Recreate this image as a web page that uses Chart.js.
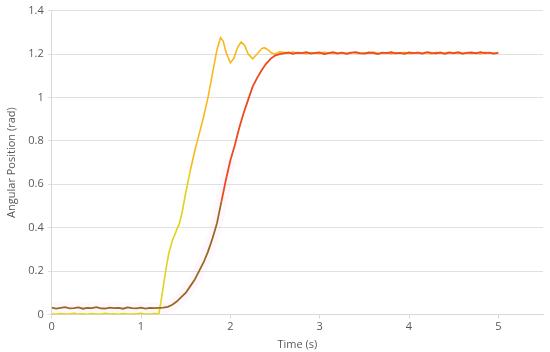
<!DOCTYPE html>
<html>
<head>
<meta charset="utf-8">
<script src="https://cdn.jsdelivr.net/npm/chart.js@4.4.1/dist/chart.umd.min.js"></script>
<style>
  html, body { margin: 0; padding: 0; background: #fff; }
  canvas { display: block; }
</style>
</head>
<body>
<canvas id="stepChart" width="550" height="352"></canvas>
<script>
// time samples (s)
const startTime = [0, 0.05, 0.1, 0.15, 0.2, 0.25, 0.3, 0.35, 0.4, 0.45, 0.5, 0.55, 0.6, 0.65, 0.7, 0.75, 0.8, 0.85, 0.9, 0.95, 1.0, 1.05, 1.1, 1.15, 1.2];
const endTime = [2.6, 2.65, 2.7, 2.75, 2.8, 2.85, 2.9, 2.95, 3.0, 3.05, 3.1, 3.15, 3.2, 3.25, 3.3, 3.35, 3.4, 3.45, 3.5, 3.55, 3.6, 3.65, 3.7, 3.75, 3.8, 3.85, 3.9, 3.95, 4.0, 4.05, 4.1, 4.15, 4.2, 4.25, 4.3, 4.35, 4.4, 4.45, 4.5, 4.55, 4.6, 4.65, 4.7, 4.75, 4.8, 4.85, 4.9, 4.95, 5.0];

// red (slow) response
const redStart = [0.032, 0.028, 0.031, 0.034, 0.029, 0.030, 0.033, 0.027, 0.031, 0.030, 0.034, 0.029, 0.028, 0.032, 0.030, 0.031, 0.027, 0.033, 0.030, 0.029, 0.032, 0.028, 0.031, 0.030, 0.031];
const redRiseTime = [1.25, 1.3, 1.35, 1.4, 1.45, 1.5, 1.55, 1.6, 1.65, 1.7, 1.75, 1.8, 1.85, 1.9, 1.95, 2.0, 2.05, 2.1, 2.15, 2.2, 2.25, 2.3, 2.35, 2.4, 2.45, 2.5, 2.55];
const redRise = [0.032, 0.036, 0.045, 0.06, 0.08, 0.10, 0.13, 0.16, 0.20, 0.24, 0.29, 0.35, 0.42, 0.52, 0.62, 0.71, 0.78, 0.86, 0.93, 0.99, 1.05, 1.09, 1.125, 1.155, 1.178, 1.193, 1.2];
const redEnd = [1.203, 1.207, 1.201, 1.206, 1.204, 1.209, 1.202, 1.205, 1.207, 1.200,
  1.204, 1.208, 1.203, 1.206, 1.201, 1.205, 1.209, 1.204, 1.202, 1.207,
  1.205, 1.200, 1.206, 1.204, 1.208, 1.203, 1.205, 1.201, 1.207, 1.204,
  1.206, 1.202, 1.209, 1.205, 1.203, 1.207, 1.201, 1.206, 1.204, 1.208,
  1.202, 1.205, 1.207, 1.203, 1.209, 1.204, 1.206, 1.202, 1.205];

// yellow (fast, oscillating) response
const yellowStart = [0.004, 0.001, 0.005, 0.002, 0.003, 0.006, 0.002, 0.004, 0.001, 0.005, 0.003, 0.002, 0.006, 0.003, 0.004, 0.001, 0.005, 0.003, 0.002, 0.004, 0.006, 0.002, 0.003, 0.005, 0.004];
const yellowRiseTime = [1.22, 1.25, 1.28, 1.31, 1.35, 1.4, 1.43, 1.46, 1.5, 1.55, 1.6, 1.65, 1.7, 1.75, 1.8, 1.85, 1.89, 1.92, 1.95, 2.0, 2.04, 2.08, 2.12, 2.16, 2.2, 2.25, 2.3, 2.35, 2.38, 2.42, 2.46, 2.5, 2.55];
const yellowRise = [0.05, 0.13, 0.21, 0.28, 0.34, 0.39, 0.42, 0.47, 0.56, 0.66, 0.75, 0.83, 0.91, 1.0, 1.11, 1.22, 1.275, 1.26, 1.21, 1.16, 1.18, 1.23, 1.255, 1.24, 1.2, 1.178, 1.2, 1.225, 1.229, 1.22, 1.205, 1.2, 1.21];
const yellowEnd = [1.208, 1.204, 1.210, 1.203, 1.206, 1.201, 1.207, 1.205, 1.202, 1.209,
  1.204, 1.206, 1.200, 1.207, 1.203, 1.208, 1.205, 1.202, 1.206, 1.204,
  1.209, 1.203, 1.205, 1.207, 1.201, 1.206, 1.204, 1.208, 1.202, 1.205,
  1.207, 1.203, 1.206, 1.200, 1.208, 1.204, 1.205, 1.209, 1.203, 1.206,
  1.202, 1.207, 1.204, 1.206, 1.201, 1.208, 1.205, 1.203, 1.207];

const xTicks = [0, 1, 2, 3, 4, 5];
const yTicks = [0, 0.2, 0.4, 0.6, 0.8, 1, 1.2, 1.4];

const toPoints = (times, values) => times.map((t, i) => ({ x: t, y: values[i] }));

const redPoints = toPoints(startTime.concat(redRiseTime, endTime), redStart.concat(redRise, redEnd));
const yellowPoints = toPoints(startTime.concat(yellowRiseTime, endTime), yellowStart.concat(yellowRise, yellowEnd));

const tickFont = { family: "'Open Sans', sans-serif", size: 11 };
const textColor = '#595959';

new Chart(document.getElementById('stepChart'), {
  type: 'line',
  data: {
    datasets: [
      {
        // faint pink halo seen around the lower red trace
        data: redPoints.filter(p => p.x <= 2.0),
        borderColor: 'rgba(250, 190, 235, 0.12)',
        borderWidth: 12,
        pointRadius: 0,
        order: 3
      },
      {
        data: yellowPoints,
        borderWidth: 1.6,
        pointRadius: 0,
        order: 2,
        segment: {
          borderColor: ctx => ctx.p1.parsed.y < 0.75 ? '#dfd41c' : '#f7b81c'
        },
        borderColor: '#f7b81c'
      },
      {
        data: redPoints,
        borderWidth: 1.8,
        pointRadius: 0,
        order: 1,
        segment: {
          borderColor: ctx => ctx.p1.parsed.y < 0.62 ? '#996a1e' : '#ec4a1c'
        },
        borderColor: '#ec4a1c'
      }
    ]
  },
  options: {
    responsive: false,
    animation: false,
    layout: { padding: { top: 4, right: 7, left: 5, bottom: 1 } },
    plugins: {
      legend: { display: false },
      tooltip: { enabled: false }
    },
    scales: {
      x: {
        type: 'linear',
        min: 0,
        max: 5.5,
        afterBuildTicks: scale => { scale.ticks = xTicks.map(v => ({ value: v })); },
        grid: { drawOnChartArea: false, color: '#d9d9d9', tickLength: 4 },
        border: { color: '#d9d9d9' },
        ticks: { color: textColor, font: tickFont, padding: 2, maxRotation: 0 },
        title: { display: true, text: 'Time (s)', color: textColor, font: tickFont, padding: { top: 2, bottom: 0 } }
      },
      y: {
        min: 0,
        max: 1.4,
        afterBuildTicks: scale => { scale.ticks = yTicks.map(v => ({ value: v })); },
        grid: { color: '#e0e0e0', tickLength: 4 },
        border: { color: '#d9d9d9' },
        ticks: { color: textColor, font: tickFont, padding: 4, callback: v => String(Math.round(v * 10) / 10) },
        title: { display: true, text: 'Angular Position (rad)', color: textColor, font: tickFont, padding: { top: 0, bottom: 6 } }
      }
    }
  }
});
</script>
</body>
</html>
